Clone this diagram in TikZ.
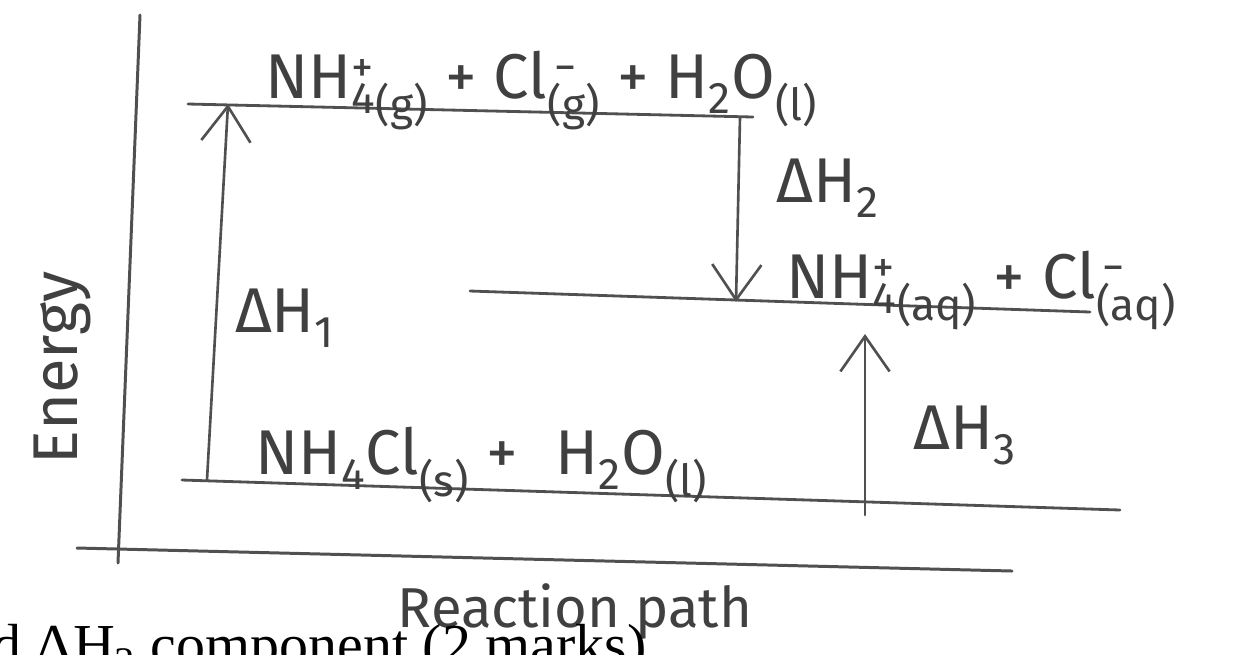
\documentclass[tikz,border=0pt]{standalone}
\usepackage{fontspec}
\setmainfont{Liberation Serif}
\newfontfamily\hand{Fira Sans}
\usetikzlibrary{arrows.meta}
\definecolor{pencil}{HTML}{505050}
\definecolor{ink}{HTML}{404040}
\newcommand\supsub[2]{\rlap{\textsuperscript{#2}}\textsubscript{#1}}
\newcommand\st[1]{\textsubscript{(#1)}}
\begin{document}
\begin{tikzpicture}[x=0.02cm,y=-0.02cm,
  axisline/.style={draw=pencil,line width=1.7pt,line cap=round},
  levelline/.style={draw=pencil,line width=1.6pt,line cap=round},
  harrow/.style={draw=pencil,line width=1.5pt,line cap=round,
    -{Straight Barb[length=20pt,width=28pt,line width=1.5pt]}},
  lbl/.style={text=ink,font=\hand\fontsize{36}{40}\selectfont,inner sep=0pt},
  print/.style={text=black,font=\fontsize{33}{38}\selectfont,inner sep=0pt}]
\useasboundingbox (0,0) rectangle (1246,654);
\clip (0,0) rectangle (1246,654);
% axes
\coordinate (vtop) at (140,15);
\coordinate (vbot) at (118,563);
\coordinate (hleft) at (77,548);
\coordinate (hright) at (1012,571);
\draw[axisline] (vtop) -- (vbot);
\draw[axisline] (hleft) -- (hright);
% levels
\coordinate (t1) at (188,104); \coordinate (t2) at (753,117);
\coordinate (m1) at (470,291); \coordinate (m2) at (1090,312);
\coordinate (b1) at (182,480); \coordinate (b2) at (1120,510);
\draw[levelline] (t1) -- (t2);
\draw[levelline] (m1) -- (m2);
\draw[levelline] (b1) -- (b2);
% arrows
\coordinate (a1s) at (207,480); \coordinate (a1e) at (228,104);
\coordinate (a2s) at (740,117); \coordinate (a2e) at (736,302);
\coordinate (a3s) at (865,515); \coordinate (a3e) at (865,334);
\draw[harrow] (a1s) -- (a1e);
\draw[harrow] (a2s) -- (a2e);
\draw[harrow] (a3s) -- (a3e);
% labels
\node[lbl,anchor=base west] (ltop) at (265,98) {NH\supsub{4}{+}\st{g} + Cl\supsub{}{\,−}\st{g} + H\textsubscript{2}O\st{l}};
\node[lbl,anchor=base west] (lmid) at (786,298) {NH\supsub{4}{+}\st{aq} + Cl\supsub{}{\,−}\st{aq}};
\node[lbl,anchor=base west] (lbot) at (255,474) {NH\textsubscript{4}Cl\st{s} +\hspace{0.6em}H\textsubscript{2}O\st{l}};
\node[lbl] (dh1) at (285,318) {ΔH\textsubscript{1}};
\node[lbl] (dh2) at (828,188) {ΔH\textsubscript{2}};
\node[lbl] (dh3) at (965,435) {ΔH\textsubscript{3}};
\node[lbl,rotate=90] (energy) at (62,368) {Energy};
\node[lbl,font=\hand\fontsize{32}{36}\selectfont] (rpath) at (575,612) {Reaction path};
\node[print,anchor=base west] (cut) at (-8,664) {d ΔH\textsubscript{3} component (2 marks)};
\end{tikzpicture}
\end{document}
